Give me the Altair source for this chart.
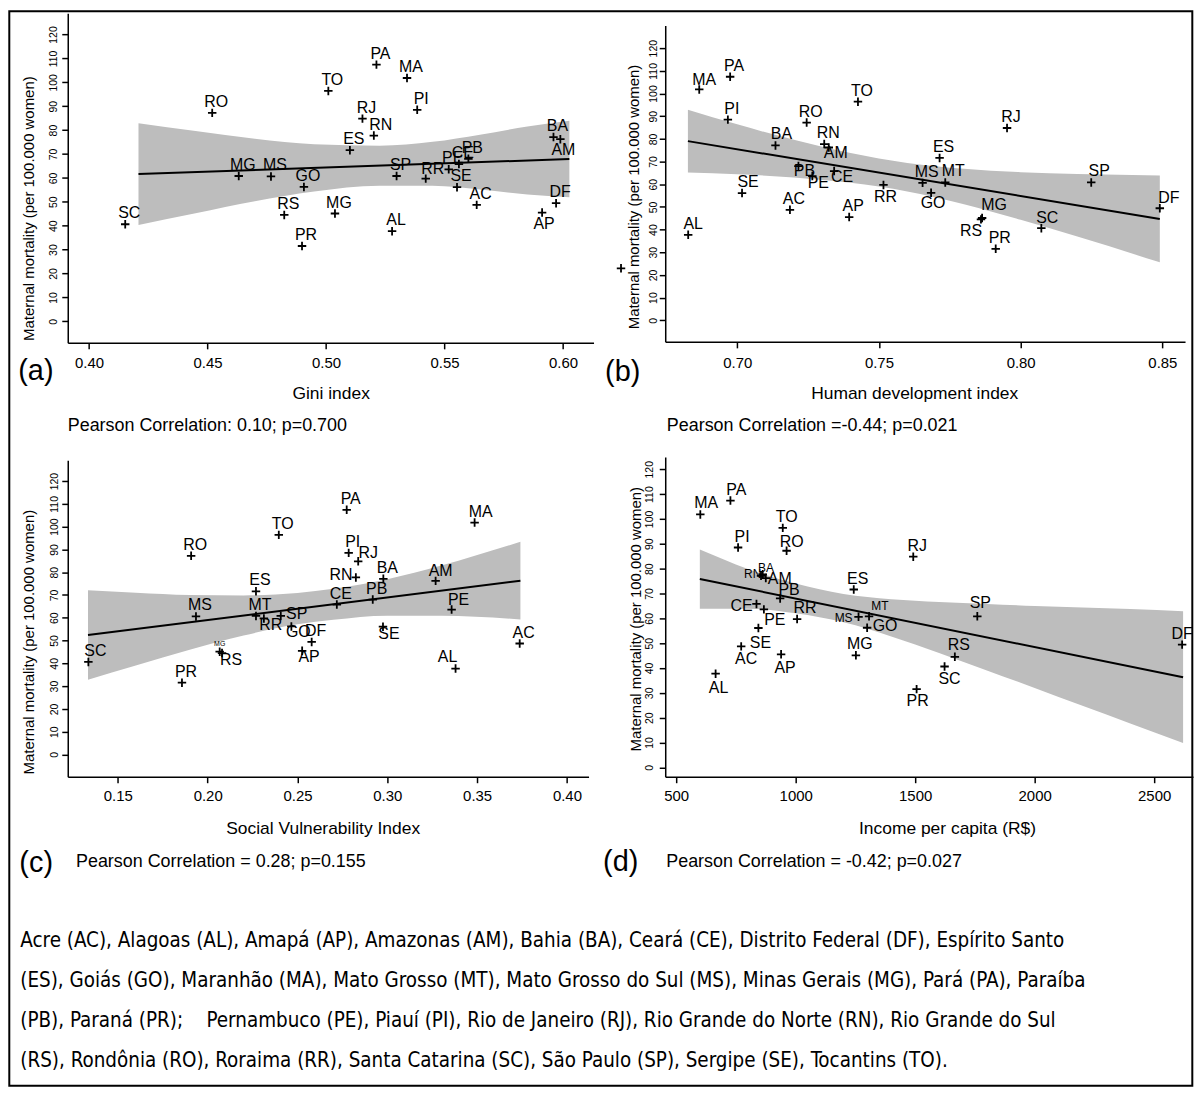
import altair as alt
import pandas as pd

# ---------------- data ----------------
states = ["AC", "AL", "AP", "AM", "BA", "CE", "DF", "ES", "GO", "MA", "MT", "MS", "MG", "PA",
          "PB", "PR", "PE", "PI", "RJ", "RN", "RS", "RO", "RR", "SC", "SP", "SE", "TO"]
mortality = [48.7, 37.7, 45.5, 76.2, 77.1, 65.8, 49.4, 71.6, 56.2, 101.8, 60.8, 60.6, 45.1, 107.4,
             68.0, 31.5, 63.6, 88.5, 84.8, 77.7, 44.5, 87.2, 59.7, 40.6, 60.8, 56.1, 96.4]
gini = [0.5636, 0.5279, 0.5912, 0.5989, 0.5960, 0.5561, 0.5971, 0.5101, 0.4907, 0.5342, 0.4632, 0.4768,
        0.5038, 0.5213, 0.5601, 0.4899, 0.5518, 0.5385, 0.5154, 0.5202, 0.4824, 0.4520, 0.5421, 0.4153,
        0.5298, 0.5553, 0.5010]
hdi = [0.7186, 0.6827, 0.7395, 0.7323, 0.7135, 0.7342, 0.8491, 0.7714, 0.7684, 0.6866, 0.7734, 0.7654,
       0.7864, 0.6975, 0.7216, 0.7912, 0.7265, 0.6967, 0.7952, 0.7307, 0.7860, 0.7245, 0.7516, 0.8073,
       0.8249, 0.7017, 0.7426]
svi = [0.3737, 0.3380, 0.2526, 0.3269, 0.2978, 0.2719, 0.2579, 0.2269, 0.2466, 0.3486, 0.2269, 0.1935,
       0.2067, 0.2774, 0.2919, 0.1857, 0.3358, 0.2785, 0.2838, 0.2825, 0.2080, 0.1908, 0.2313, 0.1336,
       0.2407, 0.2976, 0.2396]
income = [772, 665, 939, 875, 855, 836, 2617, 1243, 1299, 601, 1307, 1263, 1252, 727, 935, 1506, 867,
          759, 1492, 862, 1666, 962, 1006, 1623, 1760, 844, 946]
# panel (a) prints "MG" next to the Mato Grosso point
gini_labels = ["MG" if s == "MT" else s for s in states]

# stray unlabeled marker at the left of panel (b)
b_extra_x = [0.659]
b_extra_y = [22.9]

# fitted lines and confidence bands
a_band_x = [0.4209, 0.445, 0.47, 0.495, 0.5226, 0.545, 0.565, 0.585, 0.6027]
a_band_lo = [40.3, 45.2, 50.2, 54.3, 56.7, 56.7, 55.1, 53.1, 51.9]
a_band_hi = [82.9, 79.6, 76.4, 74.1, 73.5, 75.1, 78.1, 81.5, 83.9]
a_line_x = [0.4209, 0.6027]
a_line_y = [61.6, 67.9]

b_band_x = [0.6826, 0.70, 0.72, 0.74, 0.76, 0.78, 0.80, 0.82, 0.8491]
b_band_lo = [65.15, 64.4, 63.0, 60.6, 56.8, 51.2, 44.3, 36.9, 25.55]
b_band_hi = [92.85, 86.4, 79.6, 73.8, 69.4, 66.8, 65.3, 64.5, 63.85]
b_line_x = [0.6826, 0.8491]
b_line_y = [79.0, 44.7]

c_band_x = [0.1334, 0.16, 0.19, 0.22, 0.25, 0.27, 0.30, 0.33, 0.3741]
c_band_lo = [32.75, 39.0, 46.0, 52.2, 57.1, 59.1, 60.9, 60.9, 59.25]
c_band_hi = [72.05, 71.0, 70.0, 69.8, 70.9, 72.7, 76.9, 82.9, 93.35]
c_line_x = [0.1334, 0.3741]
c_line_y = [52.4, 76.3]

d_band_x = [599, 800, 1000, 1200, 1400, 1600, 1800, 2000, 2200, 2400, 2621]
d_band_lo = [63.9, 63.9, 62.0, 58.4, 52.7, 46.0, 39.0, 32.0, 24.8, 17.7, 9.8]
d_band_hi = [87.7, 79.9, 74.0, 69.8, 67.7, 66.6, 65.8, 65.0, 64.4, 63.7, 62.8]
d_line_x = [599, 2621]
d_line_y = [75.8, 36.3]

a_ticks = [0.40, 0.45, 0.50, 0.55, 0.60]
b_ticks = [0.70, 0.75, 0.80, 0.85]
c_ticks = [0.15, 0.20, 0.25, 0.30, 0.35, 0.40]
d_ticks = [500, 1000, 1500, 2000, 2500]
y_ticks = [0, 10, 20, 30, 40, 50, 60, 70, 80, 90, 100, 110, 120]

x_titles = ["Gini index", "Human development index", "Social Vulnerability Index", "Income per capita (R$)"]
y_title = "Maternal mortality (per 100.000 women)"
tags = ["(a)", "(b)", "(c)", "(d)"]
pearson = ["Pearson Correlation: 0.10; p=0.700", "Pearson Correlation =-0.44; p=0.021",
           "Pearson Correlation = 0.28; p=0.155", "Pearson Correlation = -0.42; p=0.027"]
notes = [
    "Acre (AC), Alagoas (AL), Amapá (AP), Amazonas (AM), Bahia (BA), Ceará (CE), Distrito Federal (DF), Espírito Santo",
    "(ES), Goiás (GO), Maranhão (MA), Mato Grosso (MT), Mato Grosso do Sul (MS), Minas Gerais (MG), Pará (PA), Paraíba",
    "(PB), Paraná (PR);\u00a0\u00a0\u00a0\u00a0Pernambuco (PE), Piauí (PI), Rio de Janeiro (RJ), Rio Grande do Norte (RN), Rio Grande do Sul",
    "(RS), Rondônia (RO), Roraima (RR), Santa Catarina (SC), São Paulo (SP), Sergipe (SE), Tocantins (TO).",
]

# ---------------- layout / style ----------------
FONT = "Liberation Sans"
NOTE_FONT = "DejaVu Sans Condensed, Liberation Sans"
DEFAULT_OFF = (4, -11)
LABEL_OFF = {
    "a": {"AP": (2, 12), "AM": (3, 11), "RR": (7, -10), "RN": (7, -11)},
    "b": {"MA": (5, -9), "AM": (7, 6), "PB": (6, 5), "PE": (6, 7), "CE": (8, 6), "RR": (2, 12),
          "GO": (2, 10), "MT": (8, -11), "MG": (12, -13), "RS": (-10, 12), "DF": (9, -10),
          "SP": (8, -11), "SC": (6, -10), "AL": (5, -11), "SE": (6, -11), "BA": (6, -11)},
    "c": {"SC": (7, -11), "MG": (0, -8), "RS": (9, 7), "RR": (7, 7), "SP": (16, -2), "GO": (7, 6),
          "AP": (7, 6), "RJ": (10, -8), "RN": (-15, -2), "SE": (6, 7), "AL": (-8, -12),
          "PE": (7, -10), "AM": (5, -10), "MA": (6, -11)},
    "d": {"BA": (5, -8), "RN": (-10, 0), "AM": (14, 1), "PB": (9, -8), "CE": (-15, 2), "PE": (11, 11),
          "SE": (2, 15), "AC": (5, 13), "AP": (4, 14), "AL": (3, 14), "RR": (8, -11), "MS": (-15, 1),
          "MT": (11, -10), "GO": (18, -2), "PR": (1, 12), "SC": (5, 13), "RS": (4, -12),
          "SP": (3, -13), "DF": (0, -11), "RO": (5, -9), "PA": (6, -11), "MA": (6, -11)},
}
LABEL_SIZE = {"c": {"MG": 7}, "d": {"BA": 12, "RN": 12, "MS": 12, "MT": 12}}

# each panel: plot size, scale domains (and y range where the axis does not fill the view),
# axis title placement, tick-label padding, panel tag and correlation text positions (view coords)
GEOM = {
    "a": dict(w=528, h=331, xdom=[0.39105, 0.6129], ydom=[-9.04, 128.9], yrng=None,
              xt=(264, 51), yt=(-39.4, 195.7), ylp=8.7, xlp=13.7, fmt=".2f",
              tag=(-32, 359), pear=(0, 415)),
    "b": dict(w=522, h=330, xdom=[0.6746, 0.858], ydom=[-9.53, 130.0], yrng=[330, 12.3],
              xt=(250, 52), yt=(-31.7, 184), ylp=5.4, xlp=14.8, fmt=".2f",
              tag=(-42.7, 360.7), pear=(1.6, 415)),
    "c": dict(w=523, h=321, xdom=[0.12212, 0.41203], ydom=[-9.79, 129.1], yrng=[321, 3.3],
              xt=(256, 52.3), yt=(-39.7, 185.3), ylp=7.7, xlp=13, fmt=".2f",
              tag=(-31.7, 407.3), pear=(8.3, 406.6)),
    "d": dict(w=530, h=321, xdom=[454.2, 2662.5], ydom=[-3.77, 124.9], yrng=None,
              xt=(283, 52.3), yt=(-29.4, 162.3), ylp=10, xlp=13, fmt="d",
              tag=(-44.7, 406.3), pear=(1, 406.6)),
}
COL_GAP = 72
ROW_GAP = 114.7
FRAME = dict(x=-58.7, x2=1129.3, y=-2, y2=1077)   # in panel (a) view coords
NOTE_X = -47.7
NOTE_Y = [932, 972, 1012, 1052]


def text_layer(t, x, y, size, align="left", font=FONT):
    return alt.Chart(pd.DataFrame({"t": [t]})).mark_text(
        font=font, fontSize=size, align=align, baseline="middle", color="black").encode(
        text="t:N", x=alt.value(x), y=alt.value(y))


def panel(key, idx, xvals, labels, ticks, band, line, extra_pts=None, extra_layers=()):
    g = GEOM[key]
    xs = alt.Scale(domain=g["xdom"], nice=False, zero=False)
    if g["yrng"] is None:
        ys = alt.Scale(domain=g["ydom"], nice=False, zero=False)
    else:
        ys = alt.Scale(domain=g["ydom"], range=g["yrng"], nice=False, zero=False)
    xaxis = alt.Axis(values=ticks, format=g["fmt"], title=x_titles[idx],
                     titleX=g["xt"][0], titleY=g["xt"][1], titleAlign="center",
                     titleBaseline="middle", titleFontSize=17.5, labelFontSize=15,
                     labelBaseline="middle", labelPadding=g["xlp"], tickSize=6,
                     labelFlush=False, labelOverlap=False)
    yaxis = alt.Axis(values=y_ticks, title=y_title,
                     titleX=g["yt"][0], titleY=g["yt"][1], titleAngle=270, titleAlign="center",
                     titleBaseline="middle", titleFontSize=15, labelFontSize=10.5, labelAngle=270,
                     labelAlign="center", labelBaseline="middle", labelPadding=g["ylp"], tickSize=6,
                     labelFlush=False, labelOverlap=False)

    def enc_x(field):
        return alt.X(field, type="quantitative", scale=xs, axis=xaxis)

    def enc_y(field):
        return alt.Y(field, type="quantitative", scale=ys, axis=yaxis)

    bdf = pd.DataFrame({"x": band[0], "lo": band[1], "hi": band[2]})
    ldf = pd.DataFrame({"x": line[0], "y": line[1]})
    offs = LABEL_OFF.get(key, {})
    sizes = LABEL_SIZE.get(key, {})
    pdf = pd.DataFrame({
        "x": xvals, "y": mortality, "label": labels,
        "dx": [offs.get(s, DEFAULT_OFF)[0] for s in states],
        "dy": [offs.get(s, DEFAULT_OFF)[1] for s in states],
        "fs": [sizes.get(s, 16) for s in states],
    })

    band_l = alt.Chart(bdf).mark_area(color="#bdbdbd", interpolate="monotone", opacity=1).encode(
        x=enc_x("x"), y=enc_y("lo"), y2="hi:Q",
    )
    line_l = alt.Chart(ldf).mark_line(color="black", strokeWidth=2).encode(
        x=enc_x("x"), y=enc_y("y"),
    )
    plus = "M-1,0L1,0M0,-1L0,1"
    pts_l = alt.Chart(pdf).mark_point(shape=plus, size=72, filled=False, stroke="black",
                                      strokeWidth=1.8, opacity=1).encode(
        x=enc_x("x"), y=enc_y("y"),
    )
    txt_l = alt.Chart(pdf).mark_text(font=FONT, align="center", baseline="middle", color="black",
                                     dx=alt.ExprRef("datum.dx"), dy=alt.ExprRef("datum.dy")).encode(
        x=enc_x("x"), y=enc_y("y"),
        text="label:N",
        size=alt.Size("fs:Q", scale=None, legend=None),
    )
    layers = [band_l, line_l, pts_l, txt_l]
    if extra_pts is not None:
        edf = pd.DataFrame({"x": extra_pts[0], "y": extra_pts[1]})
        layers.append(alt.Chart(edf).mark_point(shape=plus, size=72, filled=False, stroke="black",
                                                strokeWidth=1.8, opacity=1).encode(
            x=enc_x("x"), y=enc_y("y"),
        ))
    layers.append(text_layer(tags[idx], g["tag"][0], g["tag"][1], 29, align="center"))
    layers.append(text_layer(pearson[idx], g["pear"][0], g["pear"][1], 18))
    layers.extend(extra_layers)
    return alt.layer(*layers).properties(width=g["w"], height=g["h"])


frame = alt.Chart(pd.DataFrame({"f": [0]})).mark_rect(filled=False, stroke="black", strokeWidth=2).encode(
    x=alt.value(FRAME["x"]), x2=alt.value(FRAME["x2"]), y=alt.value(FRAME["y"]), y2=alt.value(FRAME["y2"]))
note_layers = [text_layer(t, NOTE_X, y, 20.5, font=NOTE_FONT) for t, y in zip(notes, NOTE_Y)]

pa = panel("a", 0, gini, gini_labels, a_ticks, (a_band_x, a_band_lo, a_band_hi), (a_line_x, a_line_y),
           extra_layers=[frame] + note_layers)
pb = panel("b", 1, hdi, states, b_ticks, (b_band_x, b_band_lo, b_band_hi), (b_line_x, b_line_y),
           extra_pts=(b_extra_x, b_extra_y))
pc = panel("c", 2, svi, states, c_ticks, (c_band_x, c_band_lo, c_band_hi), (c_line_x, c_line_y))
pd_ = panel("d", 3, income, states, d_ticks, (d_band_x, d_band_lo, d_band_hi), (d_line_x, d_line_y))

chart = alt.concat(pa, pb, pc, pd_, columns=2, spacing={"row": ROW_GAP, "column": COL_GAP},
                   bounds="flush", align="each").properties(
    padding=0, background="white",
).configure_view(strokeWidth=0).configure_axis(
    grid=False, domainColor="black", tickColor="black", labelColor="black", titleColor="black",
    labelFont=FONT, titleFont=FONT, titleFontWeight="normal", domainWidth=1.5, tickWidth=1.5,
)

chart.save("out.html", embed_options={"renderer": "svg", "actions": False})
